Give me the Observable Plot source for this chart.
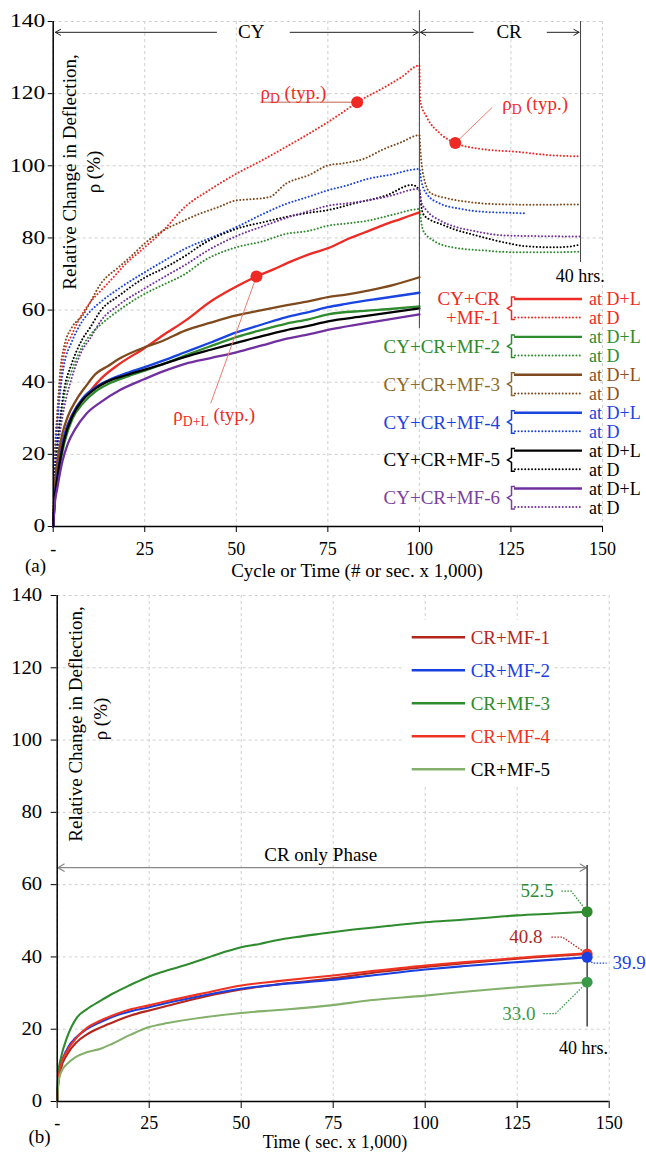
<!DOCTYPE html>
<html>
<head>
<meta charset="utf-8">
<script src="https://cdn.jsdelivr.net/npm/d3@7"></script>
<script src="https://cdn.jsdelivr.net/npm/@observablehq/plot@0.6"></script>
<style>
  html, body { margin: 0; padding: 0; background: #fff; overflow: hidden; }
  #chart { width: 646px; }
  #chart svg { display: block; }
</style>
</head>
<body>
<div id="chart"></div>
<script>
const FONT = '"Liberation Serif", "Times New Roman", serif';

// ---------- shared axes ----------
const xTicks = [0, 25, 50, 75, 100, 125, 150];
const yTicks = [0, 20, 40, 60, 80, 100, 120, 140];

// ---------- panel (a): series names & colours ----------
const seriesA = ["CY+CR+MF-1", "CY+CR+MF-2", "CY+CR+MF-3", "CY+CR+MF-4", "CY+CR+MF-5", "CY+CR+MF-6"];
const lineColorsA = ["#ee2a24", "#2e8b2e", "#7f4a1e", "#1a44e0", "#000000", "#7030a0"];
const labelColorsA = ["#ee2a24", "#2e8b2e", "#8c6a2a", "#1a44e0", "#000000", "#7b3fa0"];
const atColorsA = ["#ee2a24", "#2e8b2e", "#8b4f1e", "#1a44e0", "#000000", "#000000"];

// panel (a): at D+L (solid), cyclic phase  [x (x1,000), rho %]
const mf1DL = [[0,0],[0.5,11],[1,15],[2,21],[3.4,26.6],[5,30.5],[7.1,34],[10,37.5],[13.5,41.4],[18,45],[25,49.5],[30,53],[36,57],[43.5,62.7],[48,65.4],[55.5,69.3],[60,71.2],[65,73.5],[70,75.5],[75.7,77.4],[80,79.5],[85,81.5],[90,83.5],[95,85.3],[100,87.1]];
const mf2DL = [[0,0],[0.5,8],[1,12],[2,18],[3,23],[5.3,30],[8,34],[11.6,37.5],[15,39.5],[20,41.5],[25,43.2],[30,45],[36,47.4],[43,50],[50,52.5],[57,54.5],[63.5,56.2],[70,57.5],[75,58.8],[85,59.8],[92,60.3],[100,61]];
const mf3DL = [[0,0],[0.5,12],[1,17],[2.5,25.7],[4,30.5],[6.2,34.9],[9,39],[11.6,42.3],[15,44.5],[18,46.5],[25,49.7],[30,51.5],[36,54.3],[43,56.5],[50,58.5],[57,60],[63.5,61.3],[70,62.5],[75,63.6],[80,64.3],[86,65.4],[93,67],[100,69.1]];
const mf4DL = [[0,0],[0.5,9],[1,13],[1.6,17],[3,25],[5.3,31.2],[8,35.5],[11.6,38.6],[15,40.5],[20,42.5],[25,44.2],[30,46],[36,48.3],[43,51],[50,53.8],[57,56],[63.5,58],[70,59.5],[75,60.8],[80,61.7],[88,63],[100,64.8]];
const mf5DL = [[0,0],[0.5,8.5],[1,12.5],[2,19],[3,24],[5.3,30.7],[8,35],[11.6,38.3],[15,40.3],[20,42],[25,43.5],[30,45],[36,47],[43,49],[50,50.9],[57,52.8],[63.5,54.4],[70,55.7],[75,56.9],[85,58.3],[100,60.5]];
const mf6DL = [[0,0],[0.5,7],[1,10],[2.5,18],[4,23],[6,27],[9,31.2],[13,34.5],[18,37.7],[25,40.9],[30,43],[36,45.1],[43,46.7],[50,48.3],[57,50.2],[63.5,52],[70,53.3],[75,54.5],[85,56.3],[100,58.8]];

// panel (a): at D (dotted), cyclic + creep phases
const mf1D = [[0,0],[0.5,20],[1,28],[2,40],[3,48],[5,53],[6.5,56.3],[10,62],[13,65.4],[15,67.5],[20,73],[25,77.4],[30,82],[36,88.6],[43,93.5],[50,97.8],[57,101.5],[63.5,105.2],[70,109],[75,112.1],[80,115.5],[83,117.6],[90,121.5],[95,124.5],[100,127.8],[100.2,118],[102,113.5],[105.7,108.9],[109.8,106.3],[116.6,104.7],[127.5,103.8],[135,103],[144,102.6]];
const mf2D = [[0,0],[0.5,13],[1,20],[2,29],[3,36],[5,43],[8,50],[10,53],[13,56],[18,60],[25,64.5],[30,67],[36,70],[41,73.6],[50,77.4],[57,79],[63.5,81.1],[70,82],[75,83.4],[80,84],[86,84.8],[93,86.5],[100,88],[100.5,84.5],[101,82.1],[103.8,79.3],[109,77.4],[118,76.5],[127,76],[135,76],[144,76.2]];
const mf3D = [[0,0],[0.5,22],[1,30],[2,44],[3,50],[5,55],[8.4,59],[10,62],[13,67.3],[18,72],[22,75.6],[25,78.5],[30,82],[35,84.5],[40,86.7],[45,88.5],[50,90.4],[55,90.8],[59,91.3],[63.5,95],[70,97.5],[75,100.1],[80,100.8],[85,102],[90,104.5],[95,106.5],[100,108.5],[100.3,104],[101,97.8],[103,92.5],[107.5,91],[114,89.9],[123,89.3],[132,89.2],[144,89.3]];
const mf4D = [[0,0],[0.5,18],[1,26],[2,38],[3,45],[5,51],[8,57],[10,59.5],[13.5,62.7],[18,66],[25,70.5],[30,73.5],[36,77],[43,80],[50,83],[57,86.5],[63.5,89.4],[70,91.5],[75,93.2],[80,94.5],[86,96.4],[92,97.5],[100,99.1],[100.5,96],[102,92.2],[105.7,89.5],[111,88.1],[118,87.2],[124,87],[129,86.8]];
const mf5D = [[0,0],[0.5,14],[1,21],[2,31],[3,38],[5,45],[8,52],[10,55],[13,59.9],[18,64],[25,69],[30,71.5],[36,75],[41,78.4],[50,82.5],[58,84.5],[63.5,85.8],[70,87],[75,87.7],[82,89.5],[91,91.8],[98,94.7],[100,93.3],[100.5,89],[101,86.7],[103,85],[105.7,83.9],[110,82.2],[114,81.1],[118,80],[123,78.8],[129,77.7],[137,77.4],[141,77.6],[144,78.2]];
const mf6D = [[0,0],[0.5,12],[1,18],[2,27],[3,33],[5,41],[8,49],[10,52],[13,57],[18,61.5],[25,66],[30,69],[36,72.5],[43,77],[50,80.5],[58,83.5],[63.5,85.5],[70,87.5],[75,88.9],[82,89.8],[91,91.4],[100,93.6],[100.5,90],[102,87.6],[105.7,84.8],[110,83],[114,82.1],[123,80.7],[132,80.5],[144,80.4]];

const solidA = [mf1DL, mf2DL, mf3DL, mf4DL, mf5DL, mf6DL];
const dottedA = [mf1D, mf2D, mf3D, mf4D, mf5D, mf6D];

// panel (a) annotations
const phaseArrowsA = [{x1:44.6,x2:0.6,y:137},{x1:64.7,x2:99.7,y:137},{x1:114.7,x2:100.3,y:137},{x1:134.9,x2:143.6,y:137}];
const phaseTextA = [{x:54.1,y:137,text:"CY"},{x:124.5,y:137,text:"CR"}];
const phaseRulesA = [{x:100,y1:143,y2:54.9},{x:144,y1:140,y2:73.2}];
const endNoteA = [{x:143.9,y:69.3,text:"40 hrs."}];
const rhoDotsA = [{x:83,y:117.6},{x:109.8,y:106.3},{x:55.5,y:69.3}];
const rhoUnderlineA = [{x1:56.6,y1:117.6,x2:83,y2:117.6}];
const rhoLeadersA = [{x1:119.9,y1:116.2,x2:109.8,y2:106.3},{x1:43,y1:34.1,x2:55.5,y2:69.3}];
const rhoLabelsA = [{x:56.6,y:120.2,text:"ρD (typ.)"},{x:122.6,y:117.2,text:"ρD (typ.)"},{x:32.8,y:30.8,text:"ρD+L (typ.)"}];

// ---------- panel (b) ----------
const seriesB = ["CR+MF-1", "CR+MF-2", "CR+MF-3", "CR+MF-4", "CR+MF-5"];
const lineColorsB = ["#b3261e", "#1a3fe0", "#2e8b2e", "#ee3322", "#83b06a"];
const labelColorsB = ["#b3261e", "#1a3fe0", "#2e8b2e", "#ee3322", "#000000"];

const crMF1 = [[0,0],[0.3,5],[1,9],[2.7,13],[5.4,16.5],[8,18.5],[11.8,20.5],[16,22.3],[20,23.8],[25,25.2],[30,26.5],[40,29],[50,31],[60,32.4],[74.3,34],[85,35.5],[100,37.2],[110,38.2],[120,39.1],[130,39.9],[144,40.8]];
const crMF2 = [[0,0],[0.3,6],[1,10],[2.7,14.5],[5.4,18],[8,20],[11.8,22],[16,23.8],[20,25],[25,26.1],[30,27.3],[40,29.4],[50,31.2],[60,32.4],[74.3,33.6],[85,34.8],[100,36.5],[110,37.4],[120,38.2],[130,38.9],[144,39.9]];
const crMF3 = [[0,0],[0.3,8],[1,12],[2.7,17.8],[5.4,23.3],[8,25.5],[11.8,27.9],[15,29.8],[20,32.3],[25,34.6],[30,36.3],[34.4,37.6],[40,39.5],[45,41.2],[50,42.7],[55,43.6],[60,44.7],[65,45.5],[71.5,46.4],[80,47.5],[90,48.6],[100,49.6],[110,50.3],[120,51.1],[125,51.5],[135,52],[144,52.5]];
const crMF4 = [[0,0],[0.3,6],[1,10],[2.7,14],[5.4,17.8],[8,20.3],[11.8,22.4],[16.3,24.3],[20,25.5],[25,26.6],[30,27.8],[40,30],[50,32.1],[60,33.3],[74.3,34.8],[85,36],[100,37.6],[110,38.5],[120,39.3],[130,40.1],[144,41]];
const crMF5 = [[0,0],[0.3,5],[1,8],[2.7,10.4],[5,12.3],[8,13.6],[11.8,14.6],[15,16],[20,18.5],[25,20.6],[30,21.7],[40,23.3],[50,24.5],[60,25.3],[74.3,26.6],[85,28],[100,29.3],[110,30.3],[120,31.2],[130,32],[144,33]];
const curvesB = [crMF1, crMF2, crMF3, crMF4, crMF5];

// panel (b) annotations
const phaseArrowsB = [{x1:71.9,x2:0.2,y:64.7},{x1:71.9,x2:143.8,y:64.7}];
const phaseTextB = [{x:71.6,y:68.3,text:"CR only Phase"}];
const phaseRuleB = [{x:144,y1:65.3,y2:20.6}];
const endNoteB = [{x:143,y:14.7,text:"40 hrs."}];
const endDotsB = [{x:144,y:52.5,c:"#2e8b2e"},{x:144,y:40.8,c:"#e8322a"},{x:144,y:39.9,c:"#1a3fe0"},{x:144,y:33.0,c:"#3a9a4a"}];
const endLabelsB = [
  {x:134.9,y:58.2,text:"52.5",anchor:"end",c:"#2e8b2e"},
  {x:131.9,y:45.5,text:"40.8",anchor:"end",c:"#b3261e"},
  {x:150.9,y:38.3,text:"39.9",anchor:"start",c:"#1a3fe0"},
  {x:130.0,y:24.3,text:"33.0",anchor:"end",c:"#3a9a4a"}
];
const endLeadersB = [
  {id:"52.5",c:"#2e8b2e",pts:[[137,58.2],[139.7,58.2],[144,52.5]]},
  {id:"40.8",c:"#b3261e",pts:[[134.3,45.5],[137.3,45.5],[144,40.8]]},
  {id:"39.9",c:"#1a3fe0",pts:[[144,39.9],[145.5,38.3],[149.3,38.3]]},
  {id:"33.0",c:"#3a9a4a",pts:[[132.1,24.3],[135.4,24.3],[144,33.0]]}
];

// ---------- helpers ----------
const toRows = (pairs) => pairs.map(([x, y]) => ({x, y}));
const gridStyle = {stroke: "#cfcfcf", strokeOpacity: 1, strokeDasharray: "3,3", strokeWidth: 1};
const DOTS = "0.01,3.4";

function stretchYTicks(svg, s) {
  svg.querySelectorAll('[aria-label^="y-axis"] text').forEach(t => {
    const b = t.getBBox();
    const xr = b.x + b.width;
    const tr = t.getAttribute("transform") || "";
    t.setAttribute("transform", `${tr} translate(${xr},0) scale(${s},1) translate(${-xr},0)`);
  });
}

function subscriptRho(svg) {
  const NS = "http://www.w3.org/2000/svg";
  svg.querySelectorAll("text").forEach(t => {
    const s = t.textContent;
    if (s.startsWith("ρ") && s.includes("(typ.)")) {
      const sp = s.indexOf(" ");
      const sub = s.slice(1, sp), rest = s.slice(sp);
      t.textContent = "";
      const a = document.createElementNS(NS, "tspan"); a.textContent = "ρ"; t.appendChild(a);
      const b = document.createElementNS(NS, "tspan"); b.setAttribute("dy", "0.32em"); b.setAttribute("font-size", "0.72em"); b.textContent = sub; t.appendChild(b);
      const c = document.createElementNS(NS, "tspan"); c.setAttribute("dy", "-0.23em"); c.textContent = rest; t.appendChild(c);
    }
  });
}

function yTitle(svg, x1, x2, y1, y2) {
  const g = d3.select(svg).append("g").attr("font-family", FONT).attr("font-size", 19).attr("fill", "#000").attr("text-anchor", "middle");
  g.append("text").attr("transform", `translate(${x1},${y1}) rotate(-90)`)
    .attr("dominant-baseline", "central").text("Relative Change in Deflection,");
  g.append("text").attr("transform", `translate(${x2},${y2}) rotate(-90)`)
    .attr("dominant-baseline", "central").text("ρ (%)");
}

function plainText(svg, x, y, txt, size = 19) {
  d3.select(svg).append("text").attr("x", x).attr("y", y).attr("text-anchor", "middle")
    .attr("dominant-baseline", "central").attr("font-family", FONT).attr("font-size", size).attr("fill", "#000").text(txt);
}

const container = document.getElementById("chart");

// ================= PANEL (a) =================
const plotA = Plot.plot({
  width: 646, height: 583,
  marginTop: 21, marginBottom: 57, marginLeft: 52.7, marginRight: 44,
  style: {fontFamily: FONT, fontSize: "18px", color: "#000", background: "white", overflow: "visible"},
  x: {domain: [0, 150], ticks: xTicks, tickFormat: d => d === 0 ? "-" : String(d), label: null, tickSize: 6, tickPadding: 10},
  y: {domain: [0, 140], ticks: yTicks, label: null, tickSize: 5, tickPadding: 3},
  marks: [
    Plot.ruleX(xTicks, gridStyle),
    Plot.ruleY(yTicks, gridStyle),
    ...dottedA.map((d, i) => Plot.line(toRows(d), {x: "x", y: "y", stroke: lineColorsA[i], strokeWidth: 2, strokeDasharray: DOTS, strokeLinecap: "round", curve: "monotone-x"})),
    ...solidA.map((d, i) => Plot.line(toRows(d), {x: "x", y: "y", stroke: lineColorsA[i], strokeWidth: 2.3, curve: "monotone-x"})),
    Plot.ruleX(phaseRulesA, {x: "x", y1: "y1", y2: "y2", stroke: "#444", strokeWidth: 1}),
    Plot.arrow(phaseArrowsA, {x1: "x1", x2: "x2", y1: "y", y2: "y", stroke: "#222", strokeWidth: 1, headLength: 9}),
    Plot.text(phaseTextA, {x: "x", y: "y", text: "text", fontSize: 19, fill: "#000"}),
    Plot.text(endNoteA, {x: "x", y: "y", text: "text", fontSize: 18, fill: "#000"}),
    Plot.link(rhoUnderlineA, {x1: "x1", y1: "y1", x2: "x2", y2: "y2", stroke: "#d6968c", strokeWidth: 1.6}),
    Plot.link(rhoLeadersA, {x1: "x1", y1: "y1", x2: "x2", y2: "y2", stroke: "#f07b6d", strokeWidth: 1}),
    Plot.dot(rhoDotsA, {x: "x", y: "y", r: 6, fill: "#ee2a24", stroke: "none"}),
    Plot.text(rhoLabelsA, {x: "x", y: "y", text: "text", textAnchor: "start", fontSize: 19, fill: "#ee2a24"}),
    Plot.ruleX([0], {stroke: "#000", strokeWidth: 1.5}),
    Plot.ruleY([0], {stroke: "#000", strokeWidth: 1.5})
  ]
});
container.appendChild(plotA);
stretchYTicks(plotA, 1.3);
subscriptRho(plotA);
yTitle(plotA, 69, 93, 172, 172);
plainText(plotA, 357, 570, "Cycle or Time (# or sec. x 1,000)");
plainText(plotA, 35.5, 565, "(a)");

// legend (a)
{
  const g = d3.select(plotA).append("g").attr("font-family", FONT).attr("font-size", 18).attr("text-anchor", "start");
  g.append("rect").attr("x", 422).attr("y", 286).attr("width", 178).attr("height", 237).attr("fill", "white");
  seriesA.forEach((s, i) => {
    const y1 = 299 + 37.9 * i, y2 = y1 + 18.6, mid = (y1 + y2) / 2;
    if (i === 0) {
      g.append("text").attr("x", 500).attr("y", y1 - 1).attr("font-size", 19).attr("text-anchor", "end").attr("dominant-baseline", "central").attr("fill", labelColorsA[i]).text("CY+CR");
      g.append("text").attr("x", 500).attr("y", y2).attr("font-size", 19).attr("text-anchor", "end").attr("dominant-baseline", "central").attr("fill", labelColorsA[i]).text("+MF-1");
    } else {
      g.append("text").attr("x", 500).attr("y", mid).attr("font-size", 19).attr("text-anchor", "end").attr("dominant-baseline", "central").attr("fill", labelColorsA[i]).text(s);
    }
    g.append("path").attr("d", `M515,${y1 - 2} L511.5,${y1 - 2} L511.5,${mid - 2.5} L507.5,${mid} L511.5,${mid + 2.5} L511.5,${y2 + 2} L515,${y2 + 2}`)
      .attr("fill", "none").attr("stroke", labelColorsA[i]).attr("stroke-width", 1.5);
    g.append("line").attr("x1", 514).attr("x2", 582).attr("y1", y1).attr("y2", y1).attr("stroke", lineColorsA[i]).attr("stroke-width", 2.4);
    g.append("line").attr("x1", 515).attr("x2", 582).attr("y1", y2).attr("y2", y2).attr("stroke", lineColorsA[i]).attr("stroke-width", 2)
      .attr("stroke-dasharray", DOTS).attr("stroke-linecap", "round");
    g.append("text").attr("x", 589).attr("y", y1).attr("text-anchor", "start").attr("dominant-baseline", "central").attr("fill", atColorsA[i]).text("at D+L");
    g.append("text").attr("x", 589).attr("y", y2 + 0.5).attr("text-anchor", "start").attr("dominant-baseline", "central").attr("fill", atColorsA[i]).text("at D");
  });
}

// ================= PANEL (b) =================
const endLeaderRows = endLeadersB.flatMap(l => l.pts.map(([x, y]) => ({id: l.id, c: l.c, x, y})));
const plotB = Plot.plot({
  width: 646, height: 569,
  marginTop: 12, marginBottom: 51, marginLeft: 56.7, marginRight: 37.3,
  style: {fontFamily: FONT, fontSize: "18px", color: "#000", background: "white", overflow: "visible"},
  x: {domain: [0, 150], ticks: xTicks, tickFormat: d => d === 0 ? "-" : String(d), label: null, tickSize: 7, tickPadding: 8},
  y: {domain: [0, 140], ticks: yTicks, label: null, tickSize: 6, tickPadding: 9},
  marks: [
    Plot.ruleX(xTicks, gridStyle),
    Plot.ruleY(yTicks, gridStyle),
    ...curvesB.map((d, i) => Plot.line(toRows(d), {x: "x", y: "y", stroke: lineColorsB[i], strokeWidth: 2.1, curve: "monotone-x"})),
    Plot.arrow(phaseArrowsB, {x1: "x1", x2: "x2", y1: "y", y2: "y", stroke: "#888", strokeWidth: 1.2, headLength: 9}),
    Plot.text(phaseTextB, {x: "x", y: "y", text: "text", fontSize: 19, fill: "#000"}),
    Plot.ruleX(phaseRuleB, {x: "x", y1: "y1", y2: "y2", stroke: "#111", strokeWidth: 1.2}),
    Plot.text(endNoteB, {x: "x", y: "y", text: "text", fontSize: 18, fill: "#000"}),
    Plot.line(endLeaderRows, {x: "x", y: "y", z: "id", stroke: "c", strokeWidth: 1.3, strokeDasharray: "1.5,1.5", strokeLinecap: "butt"}),
    Plot.dot(endDotsB, {x: "x", y: "y", r: 5.5, fill: "c", stroke: "none"}),
    Plot.text(endLabelsB, {x: "x", y: "y", text: "text", textAnchor: "end", fontSize: 19, fill: "c", filter: d => d.anchor === "end"}),
    Plot.text(endLabelsB, {x: "x", y: "y", text: "text", textAnchor: "start", fontSize: 19, fill: "c", filter: d => d.anchor === "start"}),
    Plot.ruleX([0], {stroke: "#000", strokeWidth: 1.5}),
    Plot.ruleY([0], {stroke: "#000", strokeWidth: 1.5})
  ]
});
container.appendChild(plotB);
stretchYTicks(plotB, 1.15);
yTitle(plotB, 75, 100, 141, 136);
plainText(plotB, 335, 559, "Time ( sec. x 1,000)", 18);
plainText(plotB, 39.5, 553, "(b)");

// legend (b)
{
  const g = d3.select(plotB).append("g").attr("font-family", FONT).attr("font-size", 19).attr("text-anchor", "start");
  g.append("rect").attr("x", 405).attr("y", 37).attr("width", 147).attr("height", 165).attr("fill", "white");
  seriesB.forEach((s, i) => {
    const y = 54.3 + 33 * i;
    g.append("line").attr("x1", 411.7).attr("x2", 465).attr("y1", y).attr("y2", y).attr("stroke", lineColorsB[i]).attr("stroke-width", 2.4);
    g.append("text").attr("x", 470.7).attr("y", y).attr("text-anchor", "start").attr("dominant-baseline", "central").attr("fill", labelColorsB[i]).text(s);
  });
}
</script>
</body>
</html>
